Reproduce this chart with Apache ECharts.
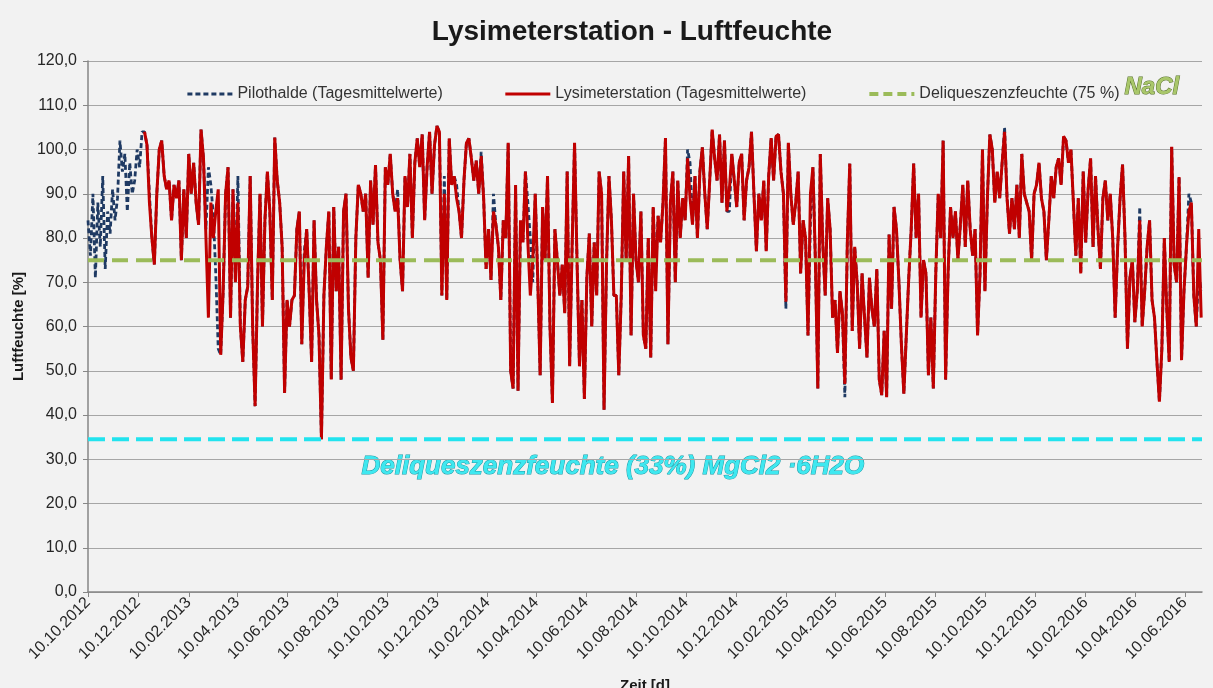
<!DOCTYPE html>
<html>
<head>
<meta charset="utf-8">
<title>Lysimeterstation - Luftfeuchte</title>
<script src="https://cdn.jsdelivr.net/npm/echarts@6/dist/echarts.min.js"></script>
<style>
  html, body { margin: 0; padding: 0; background: #f2f2f2; }
  #main { width: 1213px; height: 688px; }
</style>
</head>
<body>
<div id="main"></div>
<script>
const startDate = '2012-10-10';
const stepDays = 3;
const axisMin = '2012-10-10';
const axisMax = '2016-07-01';
const lysiFirstDate = '2012-12-18';

const tickDates = [
  '2012-10-10', '2012-12-10', '2013-02-10', '2013-04-10', '2013-06-10', '2013-08-10',
  '2013-10-10', '2013-12-10', '2014-02-10', '2014-04-10', '2014-06-10', '2014-08-10',
  '2014-10-10', '2014-12-10', '2015-02-10', '2015-04-10', '2015-06-10', '2015-08-10',
  '2015-10-10', '2015-12-10', '2016-02-10', '2016-04-10', '2016-06-10'
];

// Pilothalde (ab 10.10.2012)
const pilotValues = [
  84, 76, 90, 71, 88, 78, 94, 73, 86, 81, 91, 84, 89, 102, 95, 99, 86, 97, 90, 93, 100, 96, 104,
  104, 101, 90, 80, 74, 90, 100, 102, 94, 91, 93, 84, 92, 89, 93, 75, 91, 80, 99,
  90, 97, 88, 83, 104.5, 98, 82, 96, 92, 85, 72, 55, 53.6, 68, 90, 96, 62, 91, 70, 94,
  60, 52, 66, 69, 94, 60, 42, 70, 90, 60, 84, 95, 86, 66, 102.7, 93, 88, 78, 45, 66,
  60, 66, 67, 82, 86, 56, 77, 82, 68, 52, 84, 66, 58, 34.5, 67, 78, 86, 48, 87, 68,
  78, 48, 86, 90, 64, 53, 50, 80, 92, 90, 86,
  90, 71, 93, 83, 96.5, 79, 75, 57, 96, 92, 99, 90, 86, 91, 75, 68, 94, 87, 99, 80,
  97, 102.5, 96, 103.4, 84, 96, 104, 90, 101, 105.3, 104, 67, 94, 66, 102.5, 92, 94, 92, 86, 80,
  93, 101.5, 102.5, 98, 93, 97.5, 90, 99.5, 89, 73, 82, 70.5, 90, 83, 78, 66, 84, 80, 101.5, 50,
  46, 92, 45.5, 84, 79, 95, 88, 80, 70, 90, 71, 49, 87, 75, 94, 60, 42.7, 82, 75, 67,
  74, 63, 95, 51, 78, 101.5, 75, 51, 66, 43.6, 71, 81, 60, 79, 67, 95, 90, 41.2, 74, 94,
  84, 67, 67, 49, 67, 95, 75, 98.5, 58, 90, 75, 70, 86, 58, 55, 80, 53, 87, 72, 85,
  79, 88, 102.6, 56, 88, 95, 70, 93, 80, 89, 84, 100, 97, 83, 94, 80, 95, 100.5, 90, 82,
  93, 104.5, 98, 93, 103.4, 88, 102, 86, 86, 99, 93, 87, 97, 99, 84, 93, 96, 104, 90, 77,
  90, 84, 93, 77, 94, 102.6, 93, 103, 103.4, 95, 90, 64, 101.5, 90, 83, 88, 95, 72, 84, 80,
  58, 84, 96, 75, 46, 99, 79, 67, 89, 82, 62, 66, 54, 68, 63, 44, 79, 96.8, 59, 78,
  70, 55, 72, 62, 53, 71, 64, 60, 73, 48, 44.5, 59, 44, 80.8, 64, 87, 82, 70, 56, 44.8,
  58, 71, 82, 96.8, 80, 90, 62, 75, 72, 49, 62, 46, 72, 90, 80, 102, 48, 72, 87, 80,
  86, 75, 83, 92, 78, 93, 82, 76, 82, 58, 72, 100, 68, 89, 103.4, 100, 88, 95, 89, 97,
  105, 89, 81, 89, 82, 92, 80, 99, 90, 88, 86, 75, 90, 92, 97, 89, 86, 75, 84, 94,
  89, 96, 98, 92, 103, 102, 97, 100, 88, 76, 89, 72, 95, 79, 91, 98, 78, 94, 82, 73,
  89, 93, 84, 90, 80, 62, 78, 89, 96.6, 80, 55, 71, 75, 61, 68, 87, 60, 68, 78, 84,
  66, 62, 52, 43, 55, 80, 64, 52, 100.6, 74, 70, 93.8, 52.4, 68, 78, 90, 88, 67, 60, 72, 68
];

// Lysimeterstation (ab 18.12.2012)
const lysiValues = [
  104, 101, 88, 80, 74, 90, 100, 102, 94, 91, 93, 84, 92, 89, 93, 75, 91, 80, 99,
  90, 97, 88, 83, 104.5, 98, 80, 62, 88, 80, 86, 91, 53.6, 68, 90, 96, 62, 91, 70, 88,
  60, 52, 66, 69, 94, 60, 42, 70, 90, 60, 84, 95, 86, 66, 102.7, 93, 88, 78, 45, 66,
  60, 66, 67, 82, 86, 56, 75, 82, 68, 52, 84, 66, 58, 34.5, 67, 78, 86, 48, 87, 68,
  78, 48, 86, 90, 64, 53, 50, 80, 92, 90, 86,
  90, 71, 93, 83, 96.5, 79, 75, 57, 96, 92, 99, 90, 86, 89, 75, 68, 94, 87, 99, 80,
  97, 102.5, 96, 103.4, 84, 96, 104, 90, 101, 105.3, 104, 67, 90, 66, 102.5, 92, 94, 89, 86, 80,
  93, 101.5, 102.5, 98, 93, 97.5, 90, 98.5, 89, 73, 82, 70.5, 86, 83, 78, 66, 84, 80, 101.5, 50,
  46, 92, 45.5, 84, 79, 95, 79, 67, 75, 90, 71, 49, 87, 75, 94, 60, 42.7, 82, 75, 67,
  74, 63, 95, 51, 78, 101.5, 75, 51, 66, 43.6, 71, 81, 60, 79, 67, 95, 90, 41.2, 74, 94,
  84, 67, 67, 49, 67, 95, 75, 98.5, 58, 90, 75, 70, 86, 58, 55, 80, 53, 87, 68, 85,
  79, 88, 102.6, 56, 88, 95, 70, 93, 80, 89, 84, 98, 89, 83, 94, 80, 95, 100.5, 90, 82,
  93, 104.5, 98, 93, 103.4, 88, 102, 86, 91, 99, 93, 87, 97, 99, 84, 93, 96, 104, 90, 77,
  90, 84, 93, 77, 94, 102.6, 93, 103, 103.4, 95, 90, 65.6, 101.5, 90, 83, 88, 95, 72, 84, 80,
  58, 90, 96, 75, 46, 99, 79, 67, 89, 82, 62, 66, 54, 68, 63, 47, 79, 96.8, 59, 78,
  70, 55, 72, 62, 53, 71, 64, 60, 73, 48, 44.5, 59, 44, 80.8, 64, 87, 82, 70, 56, 44.8,
  58, 71, 82, 96.8, 80, 90, 62, 75, 72, 49, 62, 46, 72, 90, 80, 102, 48, 72, 87, 80,
  86, 75, 83, 92, 78, 93, 82, 76, 82, 58, 72, 100, 68, 89, 103.4, 100, 88, 95, 89, 97,
  104, 89, 81, 89, 82, 92, 80, 99, 90, 88, 86, 75, 90, 92, 97, 89, 86, 75, 84, 94,
  89, 96, 98, 92, 103, 102, 97, 100, 88, 76, 89, 72, 95, 79, 91, 98, 78, 94, 82, 73,
  89, 93, 84, 90, 80, 62, 78, 89, 96.6, 80, 55, 71, 75, 61, 68, 84, 60, 68, 78, 84,
  66, 62, 52, 43, 55, 80, 64, 52, 100.6, 74, 70, 93.8, 52.4, 68, 78, 86, 88, 67, 60, 82, 62
];

const naclLevel = 75;    // Deliqueszenzfeuchte NaCl
const mgclLevel = 34.5;  // Linie MgCl2 · 6H2O (wie im Bild gezeichnet)

const DAY = 86400000;
function toTime(s) {
  const p = s.split('-');
  return Date.UTC(+p[0], +p[1] - 1, +p[2]);
}
function pad(n) { return n < 10 ? '0' + n : '' + n; }
function fmtDate(v) {
  const d = new Date(v);
  return pad(d.getUTCDate()) + '.' + pad(d.getUTCMonth() + 1) + '.' + d.getUTCFullYear();
}
function toPairs(first, values) {
  const t0 = toTime(first);
  return values.map((v, i) => [t0 + i * stepDays * DAY, v]);
}

const tMin = toTime(axisMin);
const tMax = toTime(axisMax);
const tickTimes = tickDates.map(toTime);

const FONT = '"Liberation Sans", Arial, sans-serif';

const pilotStyle = { color: '#1f3a63', width: 2.8, type: [5, 3] };
const lysiStyle = { color: '#c00000', width: 3 };
const naclStyle = { color: '#9bbb59', width: 4, type: [16, 8] };
const mgclStyle = { color: '#22e3ee', width: 4, type: [17, 7] };

var chart = echarts.init(document.getElementById('main'));
var option = {
  backgroundColor: '#f2f2f2',
  animation: false,
  title: {
    text: 'Lysimeterstation - Luftfeuchte',
    left: 627,
    top: 13,
    textAlign: 'center',
    textStyle: { fontFamily: FONT, fontSize: 28, fontWeight: 'bold', color: '#1a1a1a' }
  },
  legend: {
    data: [
      { name: 'Pilothalde (Tagesmittelwerte)', lineStyle: pilotStyle },
      { name: 'Lysimeterstation (Tagesmittelwerte)', lineStyle: lysiStyle },
      { name: 'Deliqueszenzfeuchte (75 %)', lineStyle: { color: '#9bbb59', width: 4, type: [9, 5] } }
    ],
    left: 181,
    top: 81,
    itemWidth: 45,
    itemHeight: 14,
    itemGap: 61,
    itemStyle: { opacity: 0 },
    textStyle: { fontFamily: FONT, fontSize: 16, color: '#333' }
  },
  grid: { left: 88, right: 11, top: 61, bottom: 96, outerBoundsMode: 'none' },
  xAxis: {
    type: 'value',
    min: tMin,
    max: tMax,
    name: 'Zeit [d]',
    nameLocation: 'middle',
    nameGap: 86,
    nameTextStyle: { fontFamily: FONT, fontSize: 15, fontWeight: 'bold', color: '#1a1a1a' },
    axisLine: { show: true, lineStyle: { color: '#868686', width: 1.5 } },
    axisTick: { show: true, customValues: tickTimes, length: 5, lineStyle: { color: '#868686' } },
    axisLabel: {
      customValues: tickTimes,
      rotate: 45,
      fontFamily: FONT,
      fontSize: 16,
      color: '#262626',
      margin: 8,
      formatter: fmtDate
    },
    splitLine: { show: false }
  },
  yAxis: {
    type: 'value',
    min: 0,
    max: 120,
    interval: 10,
    name: 'Luftfeuchte [%]',
    nameLocation: 'middle',
    nameGap: 61,
    nameTextStyle: { fontFamily: FONT, fontSize: 15, fontWeight: 'bold', color: '#1a1a1a' },
    axisLine: { show: true, lineStyle: { color: '#868686', width: 1.5 } },
    axisTick: { show: true, length: 5, lineStyle: { color: '#868686' } },
    axisLabel: {
      fontFamily: FONT,
      fontSize: 16,
      color: '#262626',
      margin: 11,
      formatter: v => v.toFixed(1).replace('.', ',')
    },
    splitLine: { show: true, lineStyle: { color: '#a6a6a6', width: 1.2 } }
  },
  series: [
    {
      name: 'Pilothalde (Tagesmittelwerte)',
      type: 'line',
      data: toPairs(startDate, pilotValues),
      symbol: 'none',
      showSymbol: false,
      lineStyle: pilotStyle,
      itemStyle: { color: pilotStyle.color }
    },
    {
      name: 'Lysimeterstation (Tagesmittelwerte)',
      type: 'line',
      data: toPairs(lysiFirstDate, lysiValues),
      symbol: 'none',
      showSymbol: false,
      lineStyle: lysiStyle,
      itemStyle: { color: lysiStyle.color }
    },
    {
      name: 'Deliqueszenzfeuchte (75 %)',
      type: 'line',
      data: [[tMin, naclLevel], [tMax, naclLevel]],
      symbol: 'none',
      showSymbol: false,
      lineStyle: naclStyle,
      itemStyle: { color: naclStyle.color }
    },
    {
      name: 'MgCl2',
      type: 'line',
      data: [[tMin, mgclLevel], [tMax, mgclLevel]],
      symbol: 'none',
      showSymbol: false,
      lineStyle: mgclStyle,
      itemStyle: { color: mgclStyle.color }
    }
  ],
  graphic: [
    {
      type: 'text',
      left: 1124,
      top: 75,
      style: {
        text: 'NaCl',
        font: 'italic bold 24px ' + FONT,
        fill: '#a9c76a',
        stroke: '#56702a',
        lineWidth: 1
      }
    },
    {
      type: 'text',
      left: 361,
      top: 453,
      style: {
        text: 'Deliqueszenzfeuchte (33%) MgCl2 \u00b76H2O',
        font: 'italic bold 26px ' + FONT,
        fill: '#3ee8f0',
        stroke: '#1a9aa5',
        lineWidth: 1
      }
    }
  ]
};
chart.setOption(option);
</script>
</body>
</html>
